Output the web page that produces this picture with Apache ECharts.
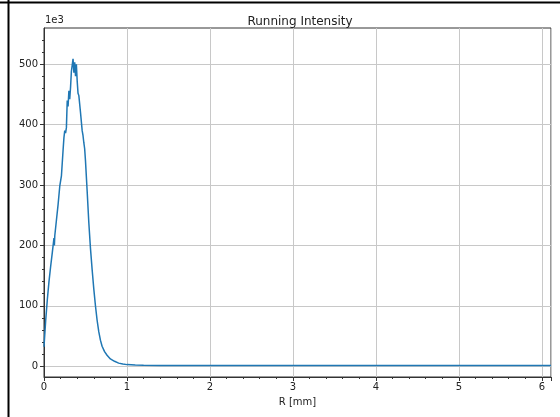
<!DOCTYPE html>
<html>
<head>
<meta charset="utf-8">
<script src="https://cdn.jsdelivr.net/npm/echarts@6/dist/echarts.min.js"></script>
<style>
  html, body { margin: 0; padding: 0; background: #fff; }
  #main { width: 560px; height: 417px; }
</style>
</head>
<body>
<div id="main"></div>
<script>
// radius in mm
var radius = [0, 0.02, 0.04, 0.06, 0.08, 0.10, 0.12, 0.125, 0.13, 0.15, 0.17, 0.19, 0.21, 0.23,
  0.24, 0.25, 0.26, 0.27, 0.28, 0.29, 0.30, 0.31, 0.32, 0.33, 0.34, 0.35, 0.36, 0.37, 0.38,
  0.39, 0.40, 0.41, 0.42, 0.43, 0.44, 0.45, 0.46, 0.47, 0.48, 0.49, 0.50, 0.52, 0.54, 0.56,
  0.58, 0.60, 0.62, 0.64, 0.66, 0.68, 0.70, 0.73, 0.76, 0.80, 0.85, 0.90, 0.95, 1.0, 1.1,
  1.2, 1.4, 1.7, 2.0, 3.0, 4.0, 5.0, 6.0, 6.11];
// intensity, in units of 1e3
var intensity = [32, 75, 110, 140, 165, 188, 212, 200, 216, 242, 268, 298, 315, 358,
  378, 390, 386, 395, 440, 430, 456, 442, 462, 488, 485, 509, 486, 503, 480,
  500, 472, 452, 448, 446, 420, 405, 390, 382, 370, 360, 340, 290, 238, 195,
  160, 128, 100, 76, 57, 43, 33, 24, 18, 12, 8, 5, 3.5, 2.5, 1.8,
  1.5, 1.2, 1.0, 1.0, 1.0, 1.0, 1.0, 1.0, 1.0];
var yMajor = [0, 100, 200, 300, 400, 500];
var yMinor = [-0.001, 20, 40, 60, 80, 120, 140, 160, 180, 220, 240, 260, 280, 320, 340, 360, 380,
  420, 440, 460, 480, 520, 540];

var points = radius.map(function (r, i) { return [r, intensity[i]]; });

var myChart = echarts.init(document.getElementById('main'));
var labelStyle = { color: '#222', fontSize: 10, fontFamily: 'DejaVu Sans' };
var option = {
  animation: false,
  title: {
    text: 'Running Intensity',
    left: 295,
    textAlign: 'center',
    top: 11,
    textStyle: { fontSize: 12, fontWeight: 'normal', color: '#222', fontFamily: 'DejaVu Sans' }
  },
  graphic: [
    { type: 'line', shape: { x1: 8.5, y1: 0, x2: 8.5, y2: 417 }, style: { stroke: '#000', lineWidth: 2 } },
    { type: 'line', shape: { x1: 0, y1: 2.5, x2: 560, y2: 2.5 }, style: { stroke: '#000', lineWidth: 2 } },
    { type: 'text', left: 45, top: 15, style: { text: '1e3', fill: '#222', font: '10px DejaVu Sans' } }
  ],
  grid: {
    left: 44, right: 9, top: 28, bottom: 40,
    show: true, borderColor: '#333', borderWidth: 1
  },
  xAxis: {
    type: 'value',
    min: 0, max: 6.11, interval: 1,
    name: 'R [mm]',
    nameLocation: 'middle',
    nameGap: 20,
    nameTextStyle: labelStyle,
    axisLine: { show: true, onZero: false, lineStyle: { color: '#333' } },
    axisTick: { show: true, length: 4, lineStyle: { color: '#333' } },
    minorTick: { show: true, splitNumber: 5, length: 2, lineStyle: { color: '#333' } },
    axisLabel: Object.assign({ margin: 5, showMaxLabel: false }, labelStyle),
    splitLine: { show: true, lineStyle: { color: '#c8c8c8', width: 1 } }
  },
  yAxis: [
    {
      type: 'value',
      min: -18, max: 560,
      axisLine: { show: true, onZero: false, lineStyle: { color: '#333' } },
      axisTick: { show: true, length: 4, customValues: yMajor, lineStyle: { color: '#333' } },
      axisLabel: Object.assign({ margin: 6, customValues: yMajor }, labelStyle),
      splitLine: { show: true, lineStyle: { color: '#c8c8c8', width: 1 } }
    },
    {
      type: 'value',
      min: -18, max: 560,
      position: 'left',
      axisLine: { show: false },
      axisTick: { show: true, length: 2, customValues: yMinor, lineStyle: { color: '#333' } },
      axisLabel: { show: false, customValues: yMinor },
      splitLine: { show: false }
    }
  ],
  series: [
    {
      type: 'line',
      data: points,
      showSymbol: false,
      lineStyle: { color: '#1f77b4', width: 1.5 },
      itemStyle: { color: '#1f77b4' }
    }
  ]
};
myChart.setOption(option);
</script>
</body>
</html>
